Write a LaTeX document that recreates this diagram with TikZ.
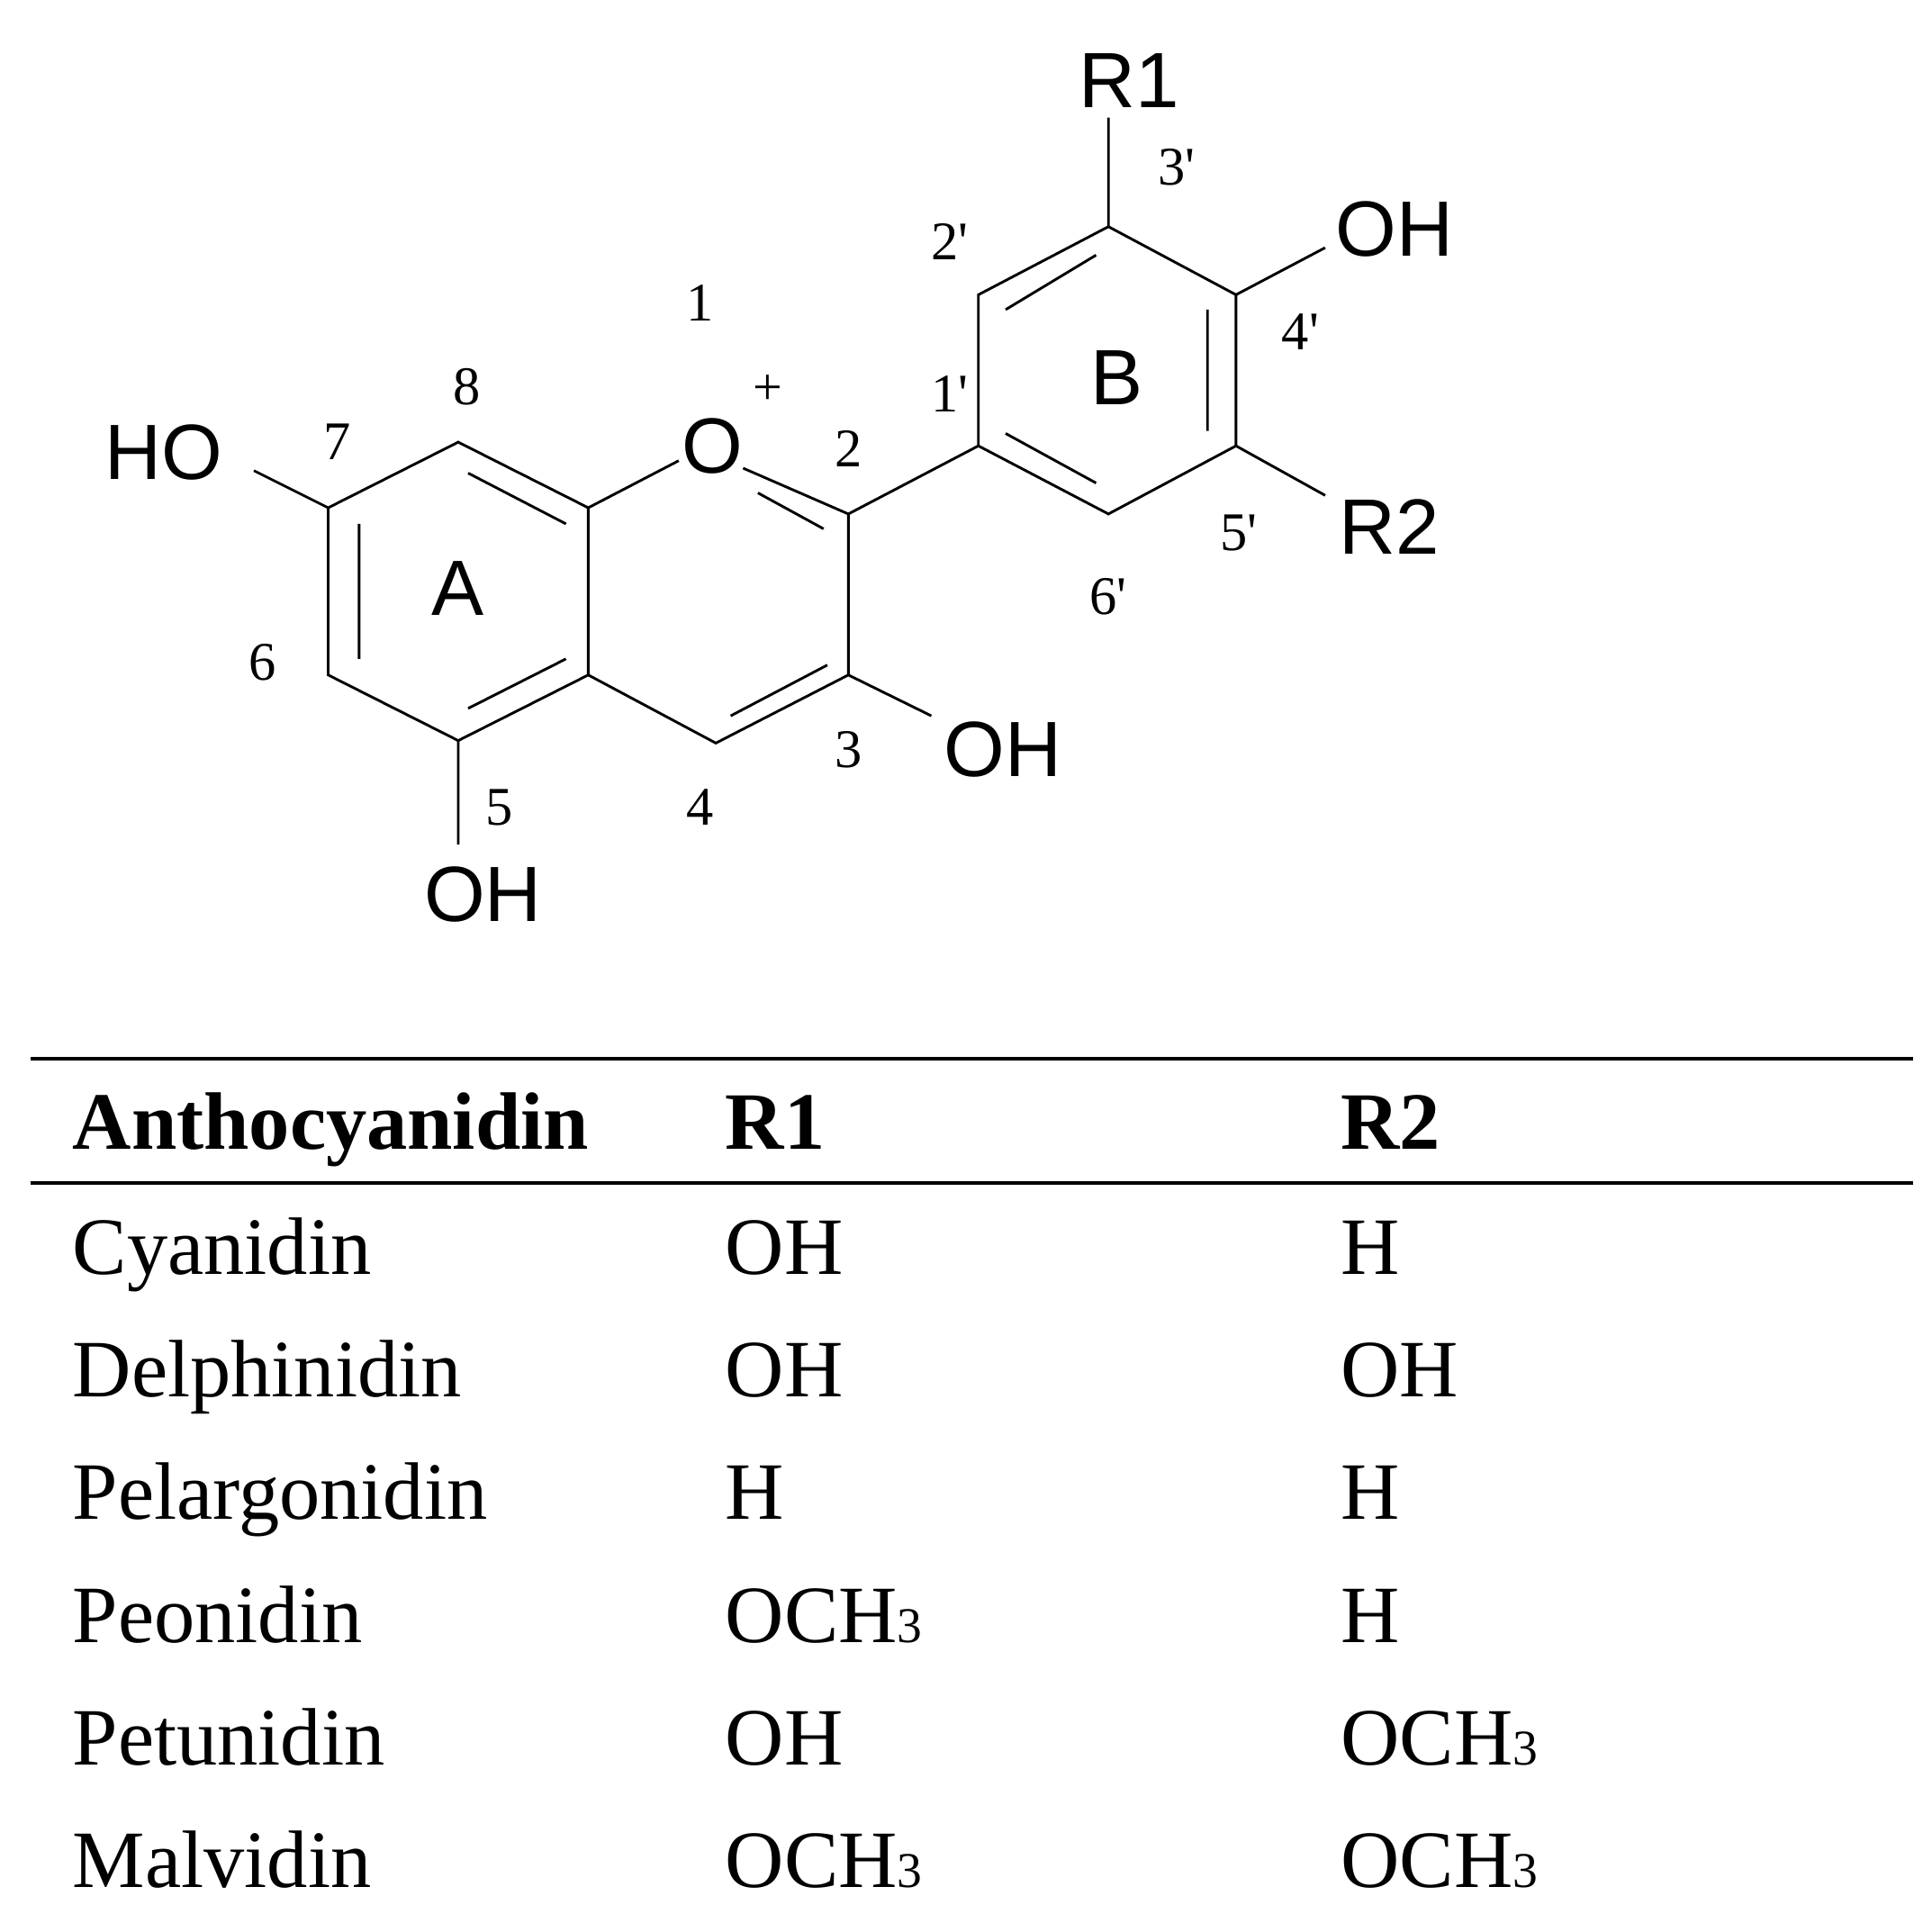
\documentclass[tikz,border=0pt]{standalone}
\usepackage{fontspec}
\setmainfont{Liberation Serif}
\newfontfamily\arial{Liberation Sans}
\begin{document}
\begin{tikzpicture}[x=0.01cm,y=-0.01cm,
 bond/.style={line width=0.6pt},
 atm/.style={font=\arial\fontsize{18}{18}\selectfont, inner sep=0pt},
 num/.style={font=\fontsize{12.5}{12.5}\selectfont, inner sep=0pt},
 tab/.style={font=\fontsize{18.7}{18.7}\selectfont, anchor=base west, inner sep=0pt},
 hd/.style={tab, font=\bfseries\fontsize{18.7}{18.7}\selectfont}]
\useasboundingbox (0,0) rectangle (1560,1560);
% atoms
\coordinate (c7) at (265,410); \coordinate (c8) at (370,357); \coordinate (c8a) at (475,410);
\coordinate (c4a) at (475,545); \coordinate (c5) at (370,598); \coordinate (c6) at (265,545);
\coordinate (c2) at (685,415); \coordinate (c3) at (685,545); \coordinate (c4) at (578,600);
\coordinate (b1) at (790,360); \coordinate (b2) at (790,238); \coordinate (b3) at (895,183);
\coordinate (b4) at (998,238); \coordinate (b5) at (998,360); \coordinate (b6) at (895,415);
\coordinate (oA) at (548,372); \coordinate (oB) at (600,378);
\coordinate (ho7) at (205,380); \coordinate (oh5) at (370,682); \coordinate (oh3) at (752,578);
\coordinate (r1) at (895,95); \coordinate (oh4) at (1070,200); \coordinate (r2) at (1070,400);
\draw[bond] (c7)--(c8)--(c8a)--(c4a)--(c5)--(c6)--cycle;
\draw[bond] (c8a)--(oA) (oB)--(c2)--(c3)--(c4)--(c4a);
\draw[bond] (c2)--(b1);
\draw[bond] (b1)--(b2)--(b3)--(b4)--(b5)--(b6)--cycle;
\draw[bond] (c7)--(ho7) (c5)--(oh5) (c3)--(oh3) (b3)--(r1) (b4)--(oh4) (b5)--(r2);
% inner double bonds
\draw[bond] (290,423)--(290,532) (378,382)--(457,423) (457,532)--(378,572);
\draw[bond] (612,398)--(665,427) (590,578)--(668,537);
\draw[bond] (812,250)--(885,206) (975,250)--(975,348) (812,350)--(885,390);
% atom labels
\node[atm] (O) at (575,360) {O};
\node[font=\fontsize{12}{12}\selectfont] (plus) at (620,315) {+};
\node[atm] (HO) at (132,365) {HO};
\node[atm] (OH5) at (390,722) {OH};
\node[atm] (OH3) at (810,605) {OH};
\node[atm] (R1) at (912,65) {R1};
\node[atm] (OH4) at (1126,185) {OH};
\node[atm] (R2) at (1122,425) {R2};
\node[atm] (A) at (370,475) {A};
\node[atm] (B) at (902,305) {B};
% numbers
\newcommand{\pr}{\textquotesingle}
\foreach \t/\x/\y in {1/565/245, 8/377/312, 7/272/357, 2/685/362, 6/212/535, 5/403/652, 4/565/652, 3/685/605, 1\pr/767/318, 2\pr/767/195, 3\pr/950/135, 4\pr/1050/268, 5\pr/1000/430, 6\pr/895/482}
  \node[num] at (\x,\y) {\t};
% table
\draw[line width=0.9pt] (25,855)--(1545,855) (25,955)--(1545,955);
\node[hd] (h1) at (58,928) {Anthocyanidin};
\node[hd] (h2) at (585,928) {R1};
\node[hd] (h3) at (1082,928) {R2};
\newcommand{\och}{OCH{\fontsize{11.5}{11.5}\selectfont 3}}
\foreach \n/\a/\b/\y in {Cyanidin/OH/H/1029, Delphinidin/OH/OH/1128, Pelargonidin/H/H/1227, Peonidin/\och/H/1326, Petunidin/OH/\och/1425, Malvidin/\och/\och/1524}{
  \node[tab] at (58,\y) {\n};
  \node[tab] at (585,\y) {\a};
  \node[tab] at (1082,\y) {\b};
}
\end{tikzpicture}
\end{document}
